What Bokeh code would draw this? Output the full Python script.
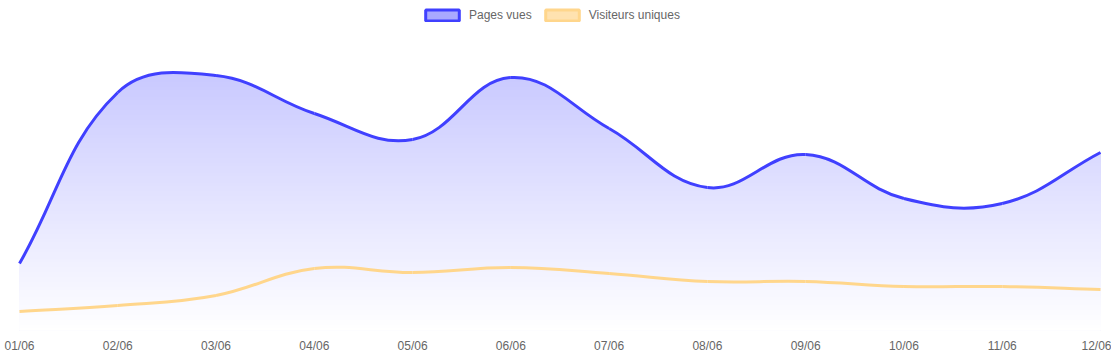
import numpy as np
from bokeh.plotting import figure
from bokeh.models import Range1d, FixedTicker, Legend, LegendItem
from bokeh.embed import file_html
from bokeh.resources import INLINE

# ---- data ----
labels = ["01/06", "02/06", "03/06", "04/06", "05/06", "06/06",
          "07/06", "08/06", "09/06", "10/06", "11/06", "12/06"]
pages_vues = [134, 476, 510, 434, 382, 506, 404, 286, 352, 264, 254, 356]
visiteurs_uniques = [38, 50, 70, 124, 116, 126, 114, 98, 98, 88, 88, 82]

# ---- layout / style ----
W, H = 1111, 355
BOTTOM = 25
FRAME_H = H - BOTTOM
STEP = 98.27
PAD_L = 19 / STEP
PAD_R = 11 / STEP
Y_TOP = 660          # value at the top of the frame
Y_GRAD = 600         # value where the gradient reaches full strength
GRAD_ALPHA = 0.33
TENSION = 0.4
BLUE = "#4040ff"
ORANGE = "#ffd68c"
FONT = "Liberation Sans"

n = len(labels)
xs = np.arange(n, dtype=float)
sx = W / (n - 1 + PAD_L + PAD_R)  # px per x unit
sy = FRAME_H / Y_TOP              # px per y unit


def spline_controls(xv, yv, t=TENSION):
    """Chart.js style cardinal spline control points (computed in pixel space)."""
    P = np.column_stack([np.asarray(xv) * sx, np.asarray(yv, dtype=float) * sy])
    m = len(P)
    cprev = np.zeros_like(P)
    cnext = np.zeros_like(P)
    for i in range(m):
        prev = P[max(i - 1, 0)]
        cur = P[i]
        nxt = P[min(i + 1, m - 1)]
        d01 = np.hypot(*(cur - prev))
        d12 = np.hypot(*(nxt - cur))
        tot = d01 + d12
        s01 = d01 / tot if tot else 0.0
        s12 = d12 / tot if tot else 0.0
        cprev[i] = cur - t * s01 * (nxt - prev)
        cnext[i] = cur + t * s12 * (nxt - prev)
    cprev[:, 0] /= sx; cprev[:, 1] /= sy
    cnext[:, 0] /= sx; cnext[:, 1] /= sy
    return cprev, cnext


def bezier_source(xv, yv):
    cprev, cnext = spline_controls(xv, yv)
    yv = np.asarray(yv, dtype=float)
    return dict(x0=list(xv[:-1]), y0=list(yv[:-1]), x1=list(xv[1:]), y1=list(yv[1:]),
                cx0=list(cnext[:-1, 0]), cy0=list(cnext[:-1, 1]),
                cx1=list(cprev[1:, 0]), cy1=list(cprev[1:, 1]))


def bezier_outline(src, steps=40):
    px, py = [], []
    t = np.linspace(0, 1, steps)
    for i in range(len(src["x0"])):
        a = (1 - t) ** 3; b = 3 * (1 - t) ** 2 * t; c = 3 * (1 - t) * t ** 2; d = t ** 3
        px.extend(a * src["x0"][i] + b * src["cx0"][i] + c * src["cx1"][i] + d * src["x1"][i])
        py.extend(a * src["y0"][i] + b * src["cy0"][i] + c * src["cy1"][i] + d * src["y1"][i])
    return [float(v) for v in px], [float(v) for v in py]


p = figure(width=W, height=H, output_backend="svg", toolbar_location=None,
           x_range=Range1d(-PAD_L, n - 1 + PAD_R), y_range=Range1d(0, Y_TOP),
           y_axis_location=None, min_border_left=0, min_border_right=0,
           min_border_top=0, min_border_bottom=BOTTOM)
p.outline_line_color = None
p.grid.visible = False

# gradient fill under "Pages vues": overlapping bands, tallest first
K = 150
tops = [Y_GRAD * (K - k) / K for k in range(K)]
cols = []
for tp in tops:
    a = GRAD_ALPHA * tp / Y_GRAD
    c = int(round(255 - a * (255 - 64)))
    cols.append("#%02x%02xff" % (c, c))
p.quad(left=[0.0] * K, right=[float(n - 1)] * K, bottom=[0.0] * K, top=tops,
       fill_color=cols, line_color=None)

src_pv = bezier_source(xs, pages_vues)
src_vu = bezier_source(xs, visiteurs_uniques)

# white mask above the blue curve
ox, oy = bezier_outline(src_pv)
mask_x = ox + [float(n - 1) + 1, float(n - 1) + 1, -1.0, -1.0]
mask_y = oy + [oy[-1], Y_TOP * 2.0, Y_TOP * 2.0, oy[0]]
p.patch(mask_x, mask_y, fill_color="white", line_color=None)

p.bezier(source=src_vu, x0="x0", y0="y0", x1="x1", y1="y1",
         cx0="cx0", cy0="cy0", cx1="cx1", cy1="cy1",
         line_color=ORANGE, line_width=3)
p.bezier(source=src_pv, x0="x0", y0="y0", x1="x1", y1="y1",
         cx0="cx0", cy0="cy0", cx1="cx1", cy1="cy1",
         line_color=BLUE, line_width=3)

# legend proxies (placed outside the visible range)
lg_pv = p.quad(left=[-50], right=[-49], top=[-50], bottom=[-51], fill_color=BLUE,
               fill_alpha=0.45, line_color=BLUE, line_width=3)
lg_vu = p.quad(left=[-50], right=[-49], top=[-50], bottom=[-51], fill_color="#ffe2b0",
               line_color=ORANGE, line_width=3)
legend = Legend(items=[LegendItem(label="Pages vues", renderers=[lg_pv]),
                       LegendItem(label="Visiteurs uniques", renderers=[lg_vu])],
                orientation="horizontal", location=(421, FRAME_H - 22),
                glyph_width=42, glyph_height=14, label_height=14, label_standoff=6,
                spacing=9, padding=0, margin=0, border_line_alpha=0,
                background_fill_alpha=0,
                label_text_font=FONT, label_text_font_size="12px",
                label_text_color="#666666")
p.add_layout(legend, "center")

ax = p.xaxis[0]
ax.ticker = FixedTicker(ticks=list(range(n)))
ax.major_label_overrides = {i: lab for i, lab in enumerate(labels)}
ax.axis_line_color = None
ax.major_tick_line_color = None
ax.minor_tick_line_color = None
ax.major_tick_out = 0
ax.major_tick_in = 0
ax.minor_tick_out = 0
ax.major_label_standoff = 8
ax.major_label_text_font = FONT
ax.major_label_text_font_size = "12px"
ax.major_label_text_color = "#666666"

open("out.html", "w").write(file_html(p, INLINE))
